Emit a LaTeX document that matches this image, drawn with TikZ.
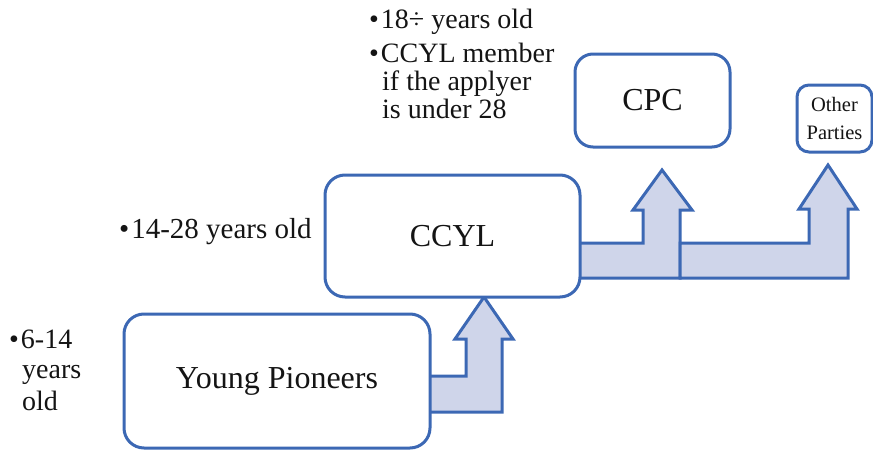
\documentclass[tikz,border=0pt]{standalone}
\usepackage{fontspec}
\setmainfont{Liberation Serif}
\definecolor{bordblue}{RGB}{60,104,180}
\definecolor{arrfill}{RGB}{207,213,234}
\definecolor{txt}{RGB}{20,20,20}
\newcommand{\bul}{•\kern2pt}
\begin{document}
\begin{tikzpicture}[x=1pt,y=-1pt,
  box/.style={draw=bordblue, line width=3pt, fill=white, inner sep=0pt, text=txt, align=center},
  bigtext/.style={font=\fontsize{32}{32}\selectfont},
  blockarrow/.style={draw=bordblue, fill=arrfill, line width=3pt, line join=miter},
  note/.style={anchor=base west, inner sep=0pt, text=txt, font=\fontsize{28}{28}\selectfont}
]
\useasboundingbox (0,0) rectangle (873,450);

% block arrows (drawn first, boxes cover their root ends)
\draw[blockarrow] (428,376) -- (466,376) -- (466,339) -- (455,339) -- (484,297)
  -- (513,339) -- (502,339) -- (502,412) -- (428,412) -- cycle;
\draw[blockarrow] (578,243) -- (643,243) -- (643,210) -- (633,210) -- (662,170)
  -- (692,210) -- (680,210) -- (680,278) -- (578,278) -- cycle;
\draw[blockarrow] (680,243) -- (809,243) -- (809,209) -- (799,209) -- (828,165)
  -- (857,209) -- (848,209) -- (848,278) -- (680,278) -- cycle;

% boxes
\node[box, bigtext, rounded corners=20pt, minimum width=306pt, minimum height=134pt]
  (yp) at (277,381) {Young Pioneers};
\node[box, bigtext, rounded corners=20pt, minimum width=255pt, minimum height=122pt]
  (ccyl) at (452.5,236) {CCYL};
\node[box, bigtext, rounded corners=18pt, minimum width=155pt, minimum height=93pt]
  (cpc) at (652.5,100.5) {CPC};
\node[box, rounded corners=12pt, minimum width=75pt, minimum height=67pt,
  font=\fontsize{20.5}{28}\selectfont] (other) at (834.5,118.5) {Other\\Parties};

% annotations
\node[note] (n1) at (369,28) {\bul 18÷ years old};
\node[note] (n2) at (369,62) {\bul CCYL member};
\node[note] (n3) at (382,90) {if the applyer};
\node[note] (n4) at (382,118) {is under 28};
\node[note, font=\fontsize{29}{29}\selectfont] (n5) at (119,238) {\bul 14-28 years old};
\node[note] (n6) at (9,348) {\bul 6-14};
\node[note] (n7) at (22,378) {years};
\node[note] (n8) at (22,410) {old};
\end{tikzpicture}
\end{document}
